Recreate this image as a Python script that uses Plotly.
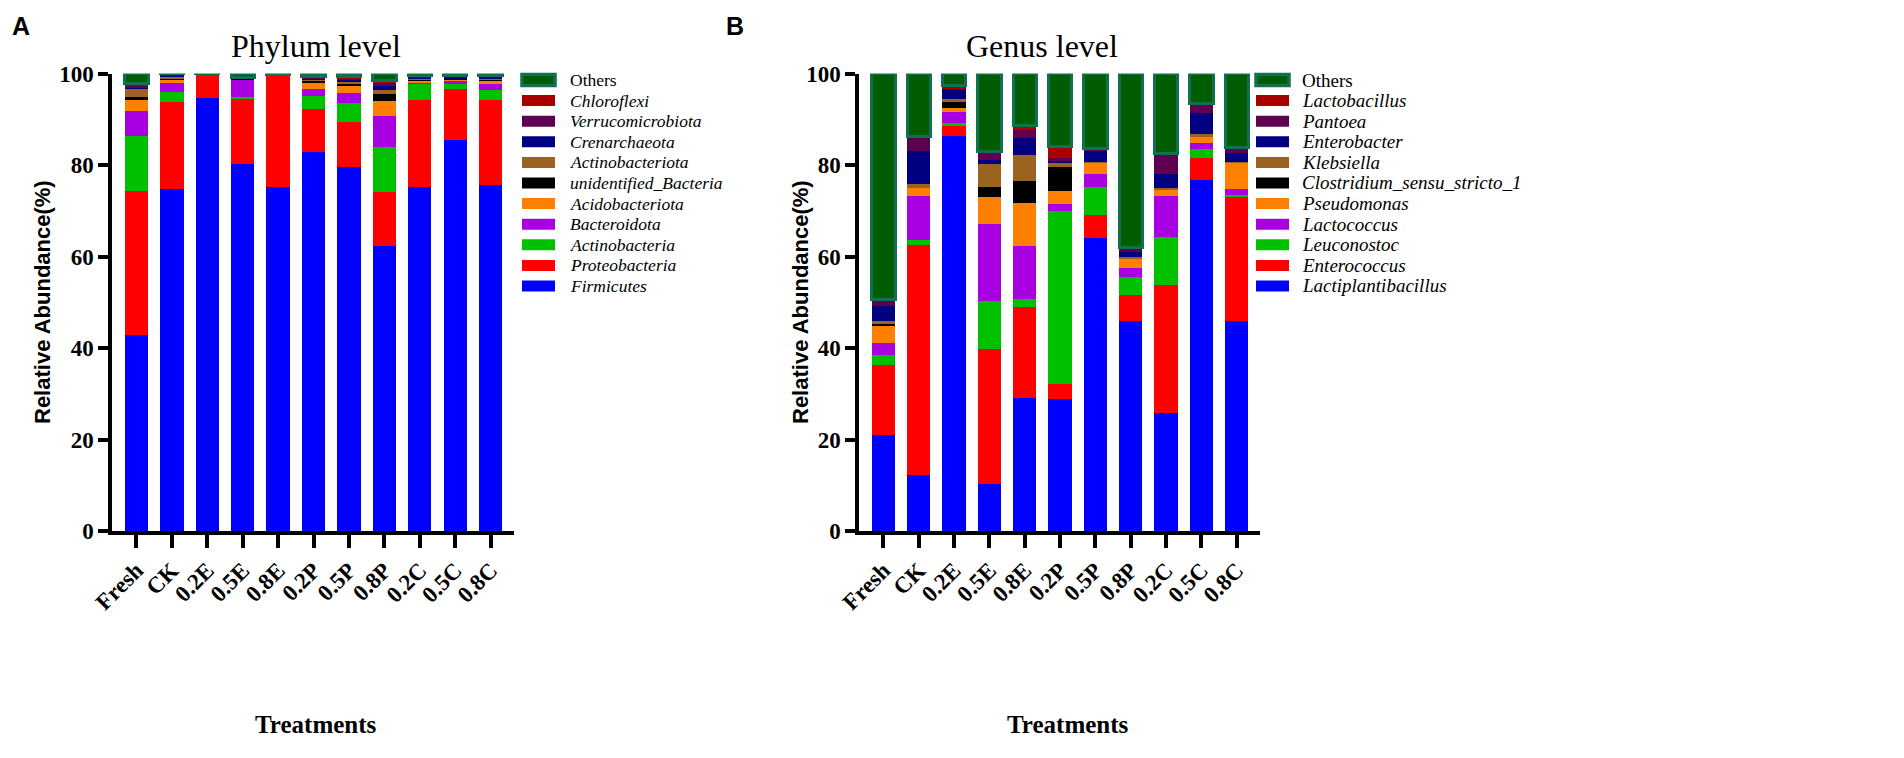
import plotly.graph_objects as go

treatments = ["Fresh", "CK", "0.2E", "0.5E", "0.8E", "0.2P", "0.5P", "0.8P", "0.2C", "0.5C", "0.8C"]

# ---- Panel A: phylum level (bottom -> top) ----
phylum_names = ["Firmicutes", "Proteobacteria", "Actinobacteria", "Bacteroidota",
                "Acidobacteriota", "unidentified_Bacteria", "Actinobacteriota",
                "Crenarchaeota", "Verrucomicrobiota", "Chloroflexi", "Others"]
firmicutes        = [42.8, 74.8, 94.7, 80.2, 75.1, 82.8, 79.6, 62.2, 75.1, 85.4, 75.7]
proteobacteria    = [31.6, 19.0, 5.2, 14.5, 24.5, 9.4, 9.9, 11.9, 19.0, 11.3, 18.4]
actinobacteria    = [12.0, 2.2, 0.0, 0.1, 0.0, 2.8, 4.1, 9.8, 3.5, 1.1, 2.2]
bacteroidota      = [5.4, 2.0, 0.0, 4.0, 0.0, 1.6, 2.2, 6.9, 0.6, 0.6, 1.3]
acidobacteriota   = [2.5, 0.9, 0.0, 0.1, 0.0, 1.5, 1.7, 3.2, 0.4, 0.5, 0.9]
unidentified_bac  = [0.6, 0.2, 0.0, 0.2, 0.0, 0.4, 0.4, 1.6, 0.2, 0.1, 0.2]
actinobacteriota  = [1.9, 0.3, 0.0, 0.0, 0.0, 0.2, 0.3, 0.7, 0.2, 0.1, 0.3]
crenarchaeota     = [0.3, 0.3, 0.0, 0.0, 0.0, 0.4, 0.5, 1.0, 0.3, 0.3, 0.4]
verrucomicrobiota = [0.4, 0.1, 0.0, 0.1, 0.2, 0.2, 0.4, 0.6, 0.1, 0.1, 0.1]
chloroflexi       = [0.4, 0.1, 0.0, 0.0, 0.0, 0.1, 0.3, 0.5, 0.1, 0.1, 0.1]
others_phylum     = [2.1, 0.1, 0.1, 0.8, 0.2, 0.6, 0.6, 1.6, 0.5, 0.4, 0.4]
phylum_values = [firmicutes, proteobacteria, actinobacteria, bacteroidota, acidobacteriota,
                 unidentified_bac, actinobacteriota, crenarchaeota, verrucomicrobiota,
                 chloroflexi, others_phylum]

# ---- Panel B: genus level (bottom -> top) ----
genus_names = ["Lactiplantibacillus", "Enterococcus", "Leuconostoc", "Lactococcus",
               "Pseudomonas", "Clostridium_sensu_stricto_1", "Klebsiella", "Enterobacter",
               "Pantoea", "Lactobacillus", "Others"]
lactiplantibacillus = [20.9, 12.2, 86.3, 10.2, 29.1, 28.8, 64.0, 45.9, 25.7, 76.8, 45.9]
enterococcus        = [15.3, 50.3, 2.5, 29.5, 19.9, 3.3, 5.0, 5.6, 28.0, 4.8, 27.0]
leuconostoc         = [2.2, 1.0, 0.4, 10.5, 1.7, 37.9, 6.2, 4.0, 10.6, 2.0, 0.6]
lactococcus         = [2.6, 9.7, 2.3, 16.9, 11.7, 1.5, 2.9, 2.0, 8.9, 1.2, 1.2]
pseudomonas         = [4.1, 1.7, 0.9, 6.0, 9.2, 2.9, 2.5, 2.2, 1.5, 1.4, 5.9]
clostridium         = [0.2, 0.0, 1.3, 2.1, 4.8, 5.2, 0.0, 0.0, 0.0, 0.0, 0.0]
klebsiella          = [0.6, 1.0, 0.8, 5.0, 5.8, 0.9, 0.1, 0.1, 0.3, 0.6, 0.1]
enterobacter        = [3.3, 7.2, 2.3, 0.8, 3.7, 0.6, 2.3, 1.2, 3.1, 4.5, 2.0]
pantoea             = [1.3, 3.1, 0.1, 1.9, 1.7, 0.4, 0.6, 0.9, 4.5, 2.1, 1.1]
lactobacillus       = [0.1, 0.0, 0.4, 0.0, 1.0, 2.5, 0.0, 0.0, 0.0, 0.0, 0.0]
others_genus        = [49.4, 13.8, 2.7, 17.1, 11.4, 16.0, 16.4, 38.1, 17.4, 6.6, 16.2]
genus_values = [lactiplantibacillus, enterococcus, leuconostoc, lactococcus, pseudomonas,
                clostridium, klebsiella, enterobacter, pantoea, lactobacillus, others_genus]

colors = ["#0000ff", "#ff0000", "#00c000", "#a800e0", "#ff8000", "#000000",
          "#9a6420", "#000080", "#5e0050", "#a80000", "#005c00"]
OTHERS_EDGE = "#107050"

SERIF = "Liberation Serif"
SANS = "Liberation Sans"
W, H = 1904, 758


def px_x(v):
    return v / W


def px_y(v):
    return 1 - v / H


fig = go.Figure()
shapes = []
annotations = []


def label_html(name):
    return name if name == "Others" else "<i>%s</i>" % name


def text(txt, x, y, size, family=SERIF, angle=0, xanchor="center"):
    annotations.append(dict(text=txt, x=px_x(x), y=px_y(y), xref="paper", yref="paper",
                            xanchor=xanchor, yanchor="middle", showarrow=False,
                            textangle=angle,
                            font=dict(family=family, size=size, color="black")))


def add_panel(names, values, xa, ya, leg_x, leg_text_x, row0, gap, fsize):
    for name, vals, col in zip(names, values, colors):
        is_other = name == "Others"
        fig.add_trace(go.Bar(
            x=treatments, y=vals, name=name,
            xaxis=xa, yaxis=ya, showlegend=False,
            width=0.66,
            marker=dict(color=col,
                        line=dict(color=OTHERS_EDGE if is_other else col,
                                  width=3 if is_other else 0)),
            hoverinfo="x+y+name",
        ))
    # legend (Others on top)
    hh = 5.5
    for i, (name, col) in enumerate(zip(names[::-1], colors[::-1])):
        yc = row0 + i * gap
        is_other = name == "Others"
        shapes.append(dict(type="rect", xref="paper", yref="paper",
                           x0=px_x(leg_x), x1=px_x(leg_x + 33),
                           y0=px_y(yc + hh), y1=px_y(yc - hh),
                           fillcolor=col,
                           line=dict(color=OTHERS_EDGE if is_other else col,
                                     width=3.5 if is_other else 0)))
        text(label_html(name), leg_text_x, yc, fsize, xanchor="left")


add_panel(phylum_names, phylum_values, "x", "y", 514, 560, 72, 20.6, 17.5)
add_panel(genus_names, genus_values, "x2", "y2", 1248, 1292, 72, 20.6, 19)

ydom = [px_y(523), px_y(65.5)]
common_x = dict(type="category", showline=True, linewidth=3.5,
                linecolor="black", ticks="outside", ticklen=13, tickwidth=3.5,
                tickcolor="black", tickangle=-45, showgrid=False, zeroline=False,
                tickfont=dict(family=SERIF, size=23, color="black", weight="bold"),
                automargin=False, fixedrange=True)
common_y = dict(range=[0, 100], tickvals=[0, 20, 40, 60, 80, 100], showline=True,
                linewidth=3.5, linecolor="black", ticks="outside", ticklen=10, tickwidth=3.5,
                tickcolor="black", showgrid=False, zeroline=False,
                tickfont=dict(family=SERIF, size=23, color="black", weight="bold"),
                automargin=False, fixedrange=True)

text("<b>Treatments</b>", 308, 716, 25)
text("<b>Treatments</b>", 1060, 716, 25)
text("<b>Relative Abundance(%)</b>", 34, 294, 22, family=SANS, angle=-90)
text("<b>Relative Abundance(%)</b>", 792, 294, 22, family=SANS, angle=-90)
text("Phylum level", 308, 38, 32)
text("Genus level", 1034, 38, 32)
text("<b>A</b>", 13, 18, 25, family=SANS)
text("<b>B</b>", 727, 18, 25, family=SANS)

fig.update_layout(
    width=W, height=H, margin=dict(l=0, r=0, t=0, b=0),
    paper_bgcolor="white", plot_bgcolor="white",
    barmode="stack", showlegend=False,
    xaxis=dict(domain=[px_x(104), px_x(506)], anchor="y", range=[-0.69, 10.66], **common_x),
    yaxis=dict(domain=ydom, anchor="x", **common_y),
    xaxis2=dict(domain=[px_x(851), px_x(1252)], anchor="y2", range=[-0.69, 10.66], **common_x),
    yaxis2=dict(domain=ydom, anchor="x2", **common_y),
    shapes=shapes,
    annotations=annotations,
)

fig.write_html("out.html")
